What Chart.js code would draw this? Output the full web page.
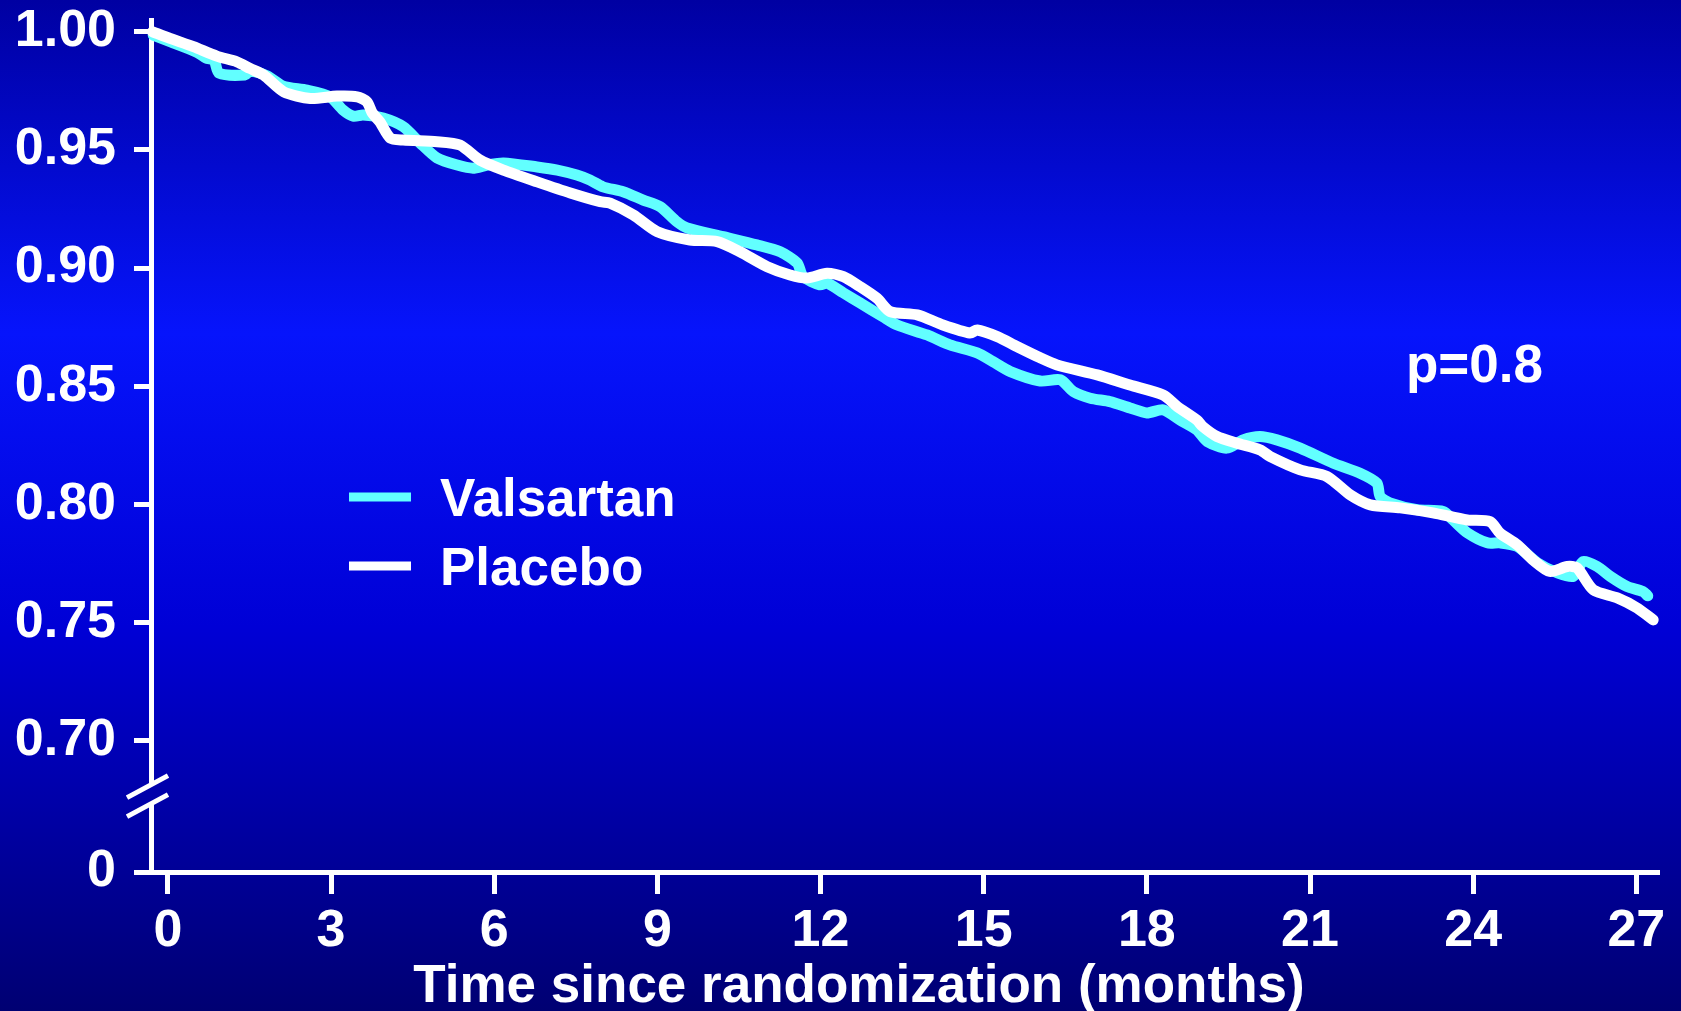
<!DOCTYPE html>
<html>
<head>
<meta charset="utf-8">
<script src="https://cdn.jsdelivr.net/npm/chart.js@4.4.1/dist/chart.umd.min.js"></script>
<style>
  html, body { margin: 0; padding: 0; background: #0000a0; overflow: hidden; }
  #wrap { width: 1681px; height: 1011px; }
</style>
</head>
<body>
<div id="wrap"><canvas id="c" width="1681" height="1011"></canvas></div>
<script>
// ---- data (months since randomization, event-free proportion) ----
const valsartanMonths = [-0.27, 0.04, 0.53, 0.70, 0.85, 0.94, 1.42, 1.51, 1.83, 2.12, 2.56, 2.98, 3.22, 3.41, 3.59, 3.96, 4.33, 4.64, 4.95, 5.32, 5.61, 5.87, 6.17, 6.79, 7.16, 7.52, 7.76, 8.00, 8.37, 8.74, 9.05, 9.36, 9.55, 10.21, 10.83, 11.26, 11.57, 11.68, 11.99, 12.12, 12.42, 12.73, 13.15, 13.41, 13.96, 14.38, 14.88, 15.17, 15.49, 16.04, 16.41, 16.65, 16.96, 17.32, 17.69, 18.00, 18.30, 18.61, 18.92, 19.11, 19.47, 19.77, 20.08, 20.39, 20.82, 21.43, 21.92, 22.23, 22.29, 22.47, 22.97, 23.45, 23.63, 23.89, 24.26, 24.49, 24.81, 25.18, 25.54, 25.84, 26.02, 26.28, 26.52, 26.83, 27.12, 27.21];
const valsartanSurvival = [0.9986, 0.9958, 0.9914, 0.9889, 0.9880, 0.9825, 0.9817, 0.9834, 0.9813, 0.9770, 0.9753, 0.9725, 0.9669, 0.9643, 0.9648, 0.9635, 0.9598, 0.9529, 0.9466, 0.9436, 0.9423, 0.9436, 0.9445, 0.9428, 0.9415, 0.9394, 0.9373, 0.9344, 0.9323, 0.9288, 0.9260, 0.9196, 0.9170, 0.9133, 0.9098, 0.9069, 0.9022, 0.8964, 0.8929, 0.8937, 0.8895, 0.8852, 0.8794, 0.8759, 0.8717, 0.8675, 0.8641, 0.8604, 0.8562, 0.8522, 0.8527, 0.8477, 0.8449, 0.8435, 0.8408, 0.8387, 0.8400, 0.8357, 0.8315, 0.8266, 0.8238, 0.8273, 0.8287, 0.8273, 0.8238, 0.8174, 0.8132, 0.8090, 0.8033, 0.8006, 0.7977, 0.7970, 0.7934, 0.7880, 0.7837, 0.7837, 0.7822, 0.7753, 0.7711, 0.7695, 0.7758, 0.7737, 0.7695, 0.7652, 0.7631, 0.7613];

const placeboMonths = [-0.28, 0.04, 0.47, 0.90, 1.27, 1.51, 1.76, 2.13, 2.62, 3.11, 3.48, 3.66, 3.76, 3.90, 4.09, 4.33, 4.95, 5.37, 5.74, 6.17, 6.79, 7.40, 7.95, 8.13, 8.56, 9.00, 9.60, 10.10, 10.52, 11.02, 11.44, 11.75, 12.12, 12.42, 12.73, 13.04, 13.28, 13.78, 14.25, 14.75, 14.88, 15.25, 15.61, 16.04, 16.35, 17.09, 17.69, 18.30, 18.56, 18.92, 19.03, 19.29, 19.66, 20.08, 20.27, 20.82, 21.31, 21.74, 22.11, 22.66, 23.26, 23.89, 24.31, 24.49, 24.81, 25.10, 25.41, 25.73, 25.91, 26.21, 26.65, 27.01, 27.31];
const placeboSurvival = [1.0000, 0.9972, 0.9937, 0.9897, 0.9873, 0.9845, 0.9817, 0.9746, 0.9718, 0.9728, 0.9725, 0.9704, 0.9656, 0.9618, 0.9550, 0.9542, 0.9535, 0.9521, 0.9457, 0.9415, 0.9365, 0.9318, 0.9281, 0.9275, 0.9225, 0.9154, 0.9119, 0.9112, 0.9069, 0.9006, 0.8971, 0.8958, 0.8978, 0.8964, 0.8921, 0.8872, 0.8816, 0.8802, 0.8759, 0.8725, 0.8738, 0.8710, 0.8668, 0.8620, 0.8590, 0.8548, 0.8505, 0.8463, 0.8414, 0.8357, 0.8329, 0.8287, 0.8259, 0.8231, 0.8202, 0.8146, 0.8118, 0.8040, 0.7998, 0.7985, 0.7964, 0.7934, 0.7927, 0.7879, 0.7829, 0.7765, 0.7716, 0.7737, 0.7731, 0.7638, 0.7604, 0.7562, 0.7511];

const seriesLabels = ['Valsartan', 'Placebo'];
const xTicks = [0, 3, 6, 9, 12, 15, 18, 21, 24, 27];
const xTitle = 'Time since randomization (months)';
// broken y axis: the "0" tick sits just below the break
const yZeroPos = 0.6444;
const yTicks = [yZeroPos, 0.70, 0.75, 0.80, 0.85, 0.90, 0.95, 1.00];
const yTickLabels = ['0', '0.70', '0.75', '0.80', '0.85', '0.90', '0.95', '1.00'];
const yBreakAt = 0.678;
const pValueText = 'p=0.8';

// ---- styling ----
const FONT = "'Liberation Sans', Arial, Helvetica, sans-serif";
const CYAN = '#62ffff';
const WHITE = '#ffffff';

const toPoints = (xs, ys) => xs.map((x, i) => ({ x, y: ys[i] }));

function makeBg(ctx, h) {
  const g = ctx.createLinearGradient(0, 0, 0, h);
  g.addColorStop(0.00, '#0000a2');
  g.addColorStop(0.33, '#0614fc');
  g.addColorStop(0.62, '#0000d6');
  g.addColorStop(1.00, '#000072');
  return g;
}

const bgPlugin = {
  id: 'bgPlugin',
  beforeDraw(chart) {
    const { ctx, width, height } = chart;
    chart.$bg = makeBg(ctx, height);
    ctx.save();
    ctx.fillStyle = chart.$bg;
    ctx.fillRect(0, 0, width, height);
    ctx.restore();
  }
};

const decorPlugin = {
  id: 'decorPlugin',
  afterDraw(chart) {
    const { ctx, chartArea } = chart;
    const ys = chart.scales.y;
    const left = chartArea.left;
    const c = ys.getPixelForValue(yBreakAt);
    ctx.save();
    // axis break: erase a gap, draw two slashes
    ctx.fillStyle = chart.$bg;
    ctx.fillRect(left - 4, c - 8, 8, 19);
    ctx.strokeStyle = WHITE;
    ctx.lineWidth = 5;
    ctx.lineCap = 'butt';
    ctx.beginPath();
    ctx.moveTo(left - 24, c + 5); ctx.lineTo(left + 17, c - 17);
    ctx.moveTo(left - 24, c + 24); ctx.lineTo(left + 17, c + 2);
    ctx.stroke();

    // legend
    const legendOrder = [0, 1];
    ctx.font = 'bold 53px ' + FONT;
    ctx.textAlign = 'left';
    ctx.textBaseline = 'alphabetic';
    legendOrder.forEach((di, k) => {
      const ds = chart.data.datasets.find(d => d.label === seriesLabels[di]);
      const ly = 497 + k * 69;
      ctx.strokeStyle = ds.borderColor;
      ctx.lineWidth = 9;
      ctx.beginPath();
      ctx.moveTo(349, ly); ctx.lineTo(411, ly);
      ctx.stroke();
      ctx.fillStyle = WHITE;
      ctx.fillText(ds.label, 440, ly + 19);
    });

    // p value
    ctx.fillText(pValueText, 1406, 382);

    // x axis title
    ctx.textAlign = 'center';
    ctx.fillText(xTitle, 859, 1002);
    ctx.restore();
  }
};

const ctx = document.getElementById('c').getContext('2d');
new Chart(ctx, {
  type: 'line',
  data: {
    datasets: [
      {
        label: seriesLabels[0],
        data: toPoints(valsartanMonths, valsartanSurvival),
        borderColor: CYAN,
        borderWidth: 11,
        order: 2
      },
      {
        label: seriesLabels[1],
        data: toPoints(placeboMonths, placeboSurvival),
        borderColor: WHITE,
        borderWidth: 11,
        order: 1
      }
    ]
  },
  options: {
    responsive: false,
    animation: false,
    devicePixelRatio: 1,
    elements: {
      point: { radius: 0, hoverRadius: 0 },
      line: { tension: 0.25, borderCapStyle: 'round', borderJoinStyle: 'round', fill: false }
    },
    datasets: { line: { clip: false } },
    layout: { padding: { top: 20, right: 24, left: 0, bottom: 0 } },
    plugins: {
      legend: { display: false },
      tooltip: { enabled: false },
      title: { display: false }
    },
    scales: {
      x: {
        type: 'linear',
        min: -0.31,
        max: 27.38,
        afterBuildTicks: (axis) => { axis.ticks = xTicks.map(v => ({ value: v })); },
        afterFit: (scale) => {
          scale.height = 139;
          scale.paddingLeft = 0; scale.paddingRight = 0;
          scale.paddingTop = 0; scale.paddingBottom = 0;
        },
        grid: { drawOnChartArea: false, drawTicks: true, tickLength: 22, color: WHITE, lineWidth: 5 },
        border: { display: true, color: WHITE, width: 5 },
        ticks: {
          autoSkip: false,
          maxRotation: 0,
          color: WHITE,
          padding: 6,
          font: { family: FONT, size: 52, weight: 'bold' },
          callback: (v) => String(v)
        },
        title: { display: false }
      },
      y: {
        type: 'linear',
        min: yZeroPos,
        max: 1.005,
        afterBuildTicks: (axis) => { axis.ticks = yTicks.map(v => ({ value: v })); },
        afterFit: (scale) => {
          scale.width = 151;
          scale.paddingTop = 0; scale.paddingBottom = 0;
          scale.paddingLeft = 0; scale.paddingRight = 0;
        },
        grid: { drawOnChartArea: false, drawTicks: true, tickLength: 17, color: WHITE, lineWidth: 5 },
        border: { display: true, color: WHITE, width: 5 },
        ticks: {
          autoSkip: false,
          color: WHITE,
          padding: 18,
          font: { family: FONT, size: 52, weight: 'bold' },
          callback: (v, i) => yTickLabels[i]
        }
      }
    }
  },
  plugins: [bgPlugin, decorPlugin]
});
</script>
</body>
</html>
